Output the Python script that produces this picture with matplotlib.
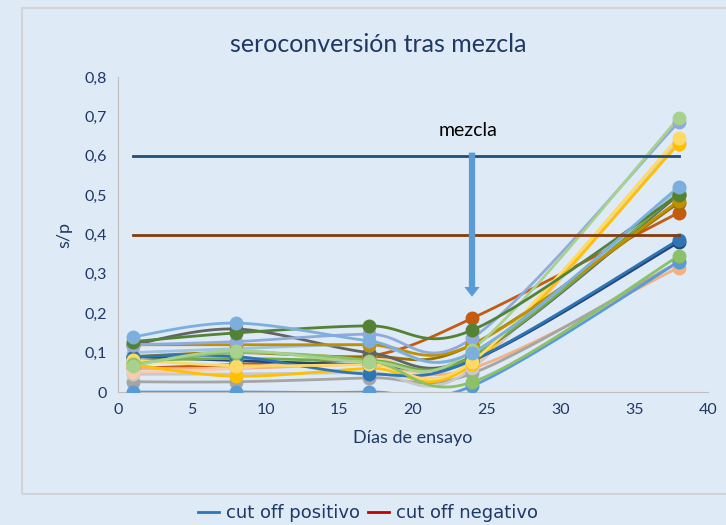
import numpy as np
import matplotlib.pyplot as plt
from matplotlib.lines import Line2D
from matplotlib.patches import Rectangle
from matplotlib.ticker import FuncFormatter

# days of sampling
days = [1, 8, 17, 24, 38]

# s/p values per animal (one list each)
s_blue_low = [0.0, 0.0, 0.0, 0.015, 0.33]
s_green_low = [0.07, 0.10, 0.08, 0.025, 0.345]
s_orange_low = [0.06, 0.06, 0.07, 0.06, 0.316]
s_dblue = [0.09, 0.09, 0.046, 0.08, 0.386]
s_orange = [0.06, 0.07, 0.09, 0.187, 0.455]
s_gold = [0.12, 0.12, 0.12, 0.12, 0.485]
s_dgreen = [0.128, 0.15, 0.168, 0.157, 0.50]
s_green = [0.08, 0.085, 0.08, 0.09, 0.505]
s_lblue = [0.10, 0.11, 0.12, 0.10, 0.515]
s_lorange = [0.05, 0.06, 0.09, 0.07, 0.63]
s_lgrey = [0.045, 0.046, 0.05, 0.06, 0.635]
s_yellow = [0.081, 0.067, 0.07, 0.077, 0.646]
s_lgreen = [0.067, 0.105, 0.077, 0.107, 0.695]
s_peri = [0.12, 0.128, 0.147, 0.136, 0.685]
s_dgrey = [0.12, 0.16, 0.10, 0.09, 0.50]
s_blue_top = [0.14, 0.175, 0.13, 0.10, 0.52]
s_grey = [0.026, 0.026, 0.036, 0.047, 0.33]
s_yellow2 = [0.07, 0.04, 0.06, 0.07, 0.63]
s_brown = [0.09, 0.10, 0.09, 0.12, 0.48]
s_navy = [0.09, 0.08, 0.07, 0.08, 0.38]

series = [
    (s_orange, '#C55A11'), (s_orange_low, '#F4B183'), (s_grey, '#A5A5A5'),
    (s_lgrey, '#C9C9C9'), (s_lorange, '#F8CBAD'), (s_yellow2, '#FFC000'),
    (s_navy, '#264478'), (s_brown, '#997300'), (s_dgrey, '#636363'),
    (s_green, '#70AD47'), (s_lblue, '#9DC3E6'), (s_dblue, '#2E75B6'),
    (s_yellow, '#FFD966'), (s_gold, '#BF9000'), (s_blue_low, '#5B9BD5'),
    (s_green_low, '#8CC168'), (s_peri, '#8FAADC'), (s_lgreen, '#A9D18E'),
    (s_dgreen, '#548235'), (s_blue_top, '#7CAFDD'),
]

cut_pos = 0.6
cut_neg = 0.4

bg = '#DEEAF6'
txt = '#1F3864'

fig = plt.figure(figsize=(7.26, 5.25), dpi=100, facecolor=bg)
fig.patches.append(Rectangle((22 / 726, 1 - 494 / 525), 1, (494 - 8) / 525,
                             transform=fig.transFigure, fill=False,
                             edgecolor='#D0D4D8', linewidth=1.5))
ax = fig.add_axes([118 / 726, 1 - 392 / 525, 590 / 726, 315 / 525])
ax.set_facecolor(bg)
ax.set_xlim(0, 40)
ax.set_ylim(0, 0.8)


def smooth(xs, ys, n=30):
    # excel-like smoothed line, built in screen space
    pts = ax.transData.transform(np.column_stack([xs, ys]))
    p = np.vstack([pts[0], pts, pts[-1]])
    out = []
    t = np.linspace(0, 1, n)[:, None]
    for i in range(1, len(p) - 2):
        p0, p3 = p[i], p[i + 1]
        c1 = p0 + (p[i + 1] - p[i - 1]) / 6
        c2 = p3 - (p[i + 2] - p[i]) / 6
        seg = (1 - t) ** 3 * p0 + 3 * (1 - t) ** 2 * t * c1 + 3 * (1 - t) * t ** 2 * c2 + t ** 3 * p3
        out.append(seg)
    out = np.vstack(out)
    return ax.transData.inverted().transform(out)


for vals, col in series:
    c = smooth(days, vals)
    ax.plot(c[:, 0], c[:, 1], color=col, lw=2.0, solid_capstyle='round', zorder=2)
    ax.plot(days, vals, 'o', color=col, ms=9, zorder=3)

ax.plot([days[0], days[-1]], [cut_pos, cut_pos], color='#1F4E79', lw=2, zorder=4)
ax.plot([days[0], days[-1]], [cut_neg, cut_neg], color='#843C0C', lw=2, zorder=4)

ax.annotate('', xy=(24, 0.235), xytext=(24, 0.615),
            arrowprops=dict(arrowstyle='simple,head_width=1.1,head_length=0.7,tail_width=0.45',
                            color='#5B9BD5', lw=0), zorder=5)
ax.text(23.7, 0.663, 'mezcla', ha='center', va='center', fontsize=14,
        family='Lato', color='black')

for s in ['top', 'right']:
    ax.spines[s].set_visible(False)
for s in ['left', 'bottom']:
    ax.spines[s].set_color('#BFBFBF')
ax.tick_params(length=0, colors=txt, labelsize=11.5, pad=8)
for lb in ax.get_xticklabels() + ax.get_yticklabels():
    lb.set_family('Lato')
ax.set_xticks(range(0, 41, 5))
ax.set_yticks(np.arange(0, 0.81, 0.1))
ax.yaxis.set_major_formatter(FuncFormatter(
    lambda v, p: '0' if abs(v) < 1e-9 else f'{v:.1f}'.replace('.', ',')))

ax.set_xlabel('Días de ensayo', color=txt, fontsize=13, family='Lato', labelpad=9)
ax.set_ylabel('s/p', color=txt, fontsize=13, family='Lato', labelpad=9)
fig.text(378 / 726, 1 - 44 / 525, 'seroconversión tras mezcla', ha='center', va='center',
         fontsize=18, family='Lato', color=txt)

handles = [Line2D([], [], color='#2E75B6', lw=2), Line2D([], [], color='#C00000', lw=2)]
fig.legend(handles, ['cut off positivo', 'cut off negativo'], loc='center',
           bbox_to_anchor=(368 / 726, 1 - 513 / 525), ncol=2, frameon=False,
           fontsize=13, handlelength=1.2, handletextpad=0.4, columnspacing=0.4,
           labelcolor=txt)

fig.savefig('out.png', dpi=100, facecolor=bg)
